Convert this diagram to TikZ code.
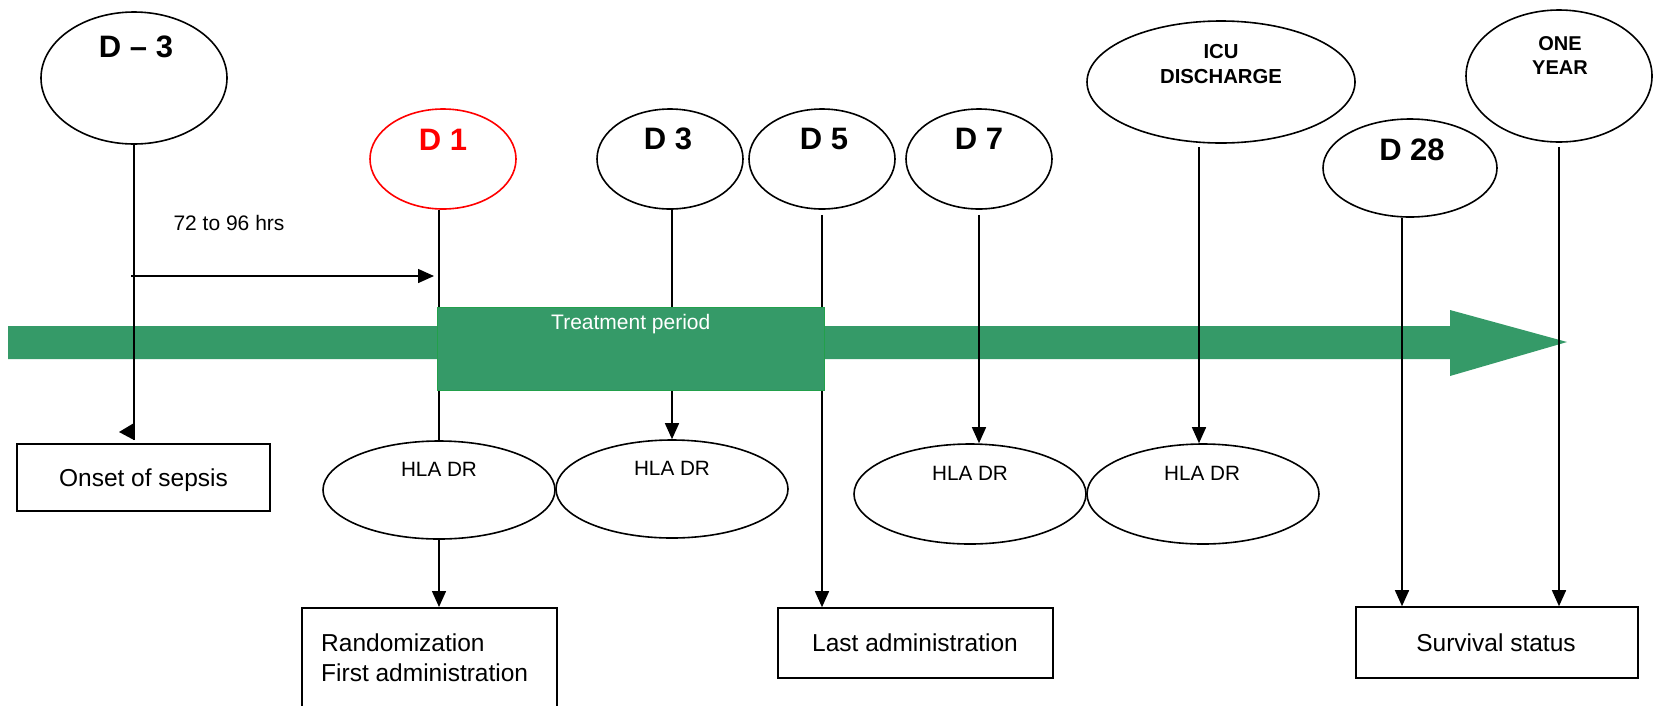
\documentclass[tikz,border=0pt]{standalone}
\usepackage{fontspec}
\setmainfont{Liberation Sans}
\usetikzlibrary{shapes.geometric,arrows.meta}
\definecolor{tgreen}{HTML}{359A68}
\definecolor{tborder}{HTML}{22A04B}
\definecolor{dred}{HTML}{FF0000}
\newcommand{\fbig}{\fontsize{31}{36}\selectfont\bfseries}
\newcommand{\fsmb}{\fontsize{20.3}{25}\selectfont\bfseries}
\newcommand{\fmid}{\fontsize{24.5}{30}\selectfont}
\newcommand{\fsml}{\fontsize{21}{25}\selectfont}
\newcommand{\fhla}{\fontsize{20.7}{25}\selectfont}
\tikzset{
  ell/.style={ellipse, draw, line width=1.6pt, inner sep=0pt},
  boxn/.style={rectangle, draw, line width=1.6pt, inner sep=0pt},
  conn/.style={line width=1.5pt},
  arr/.style={line width=1.5pt, -{Triangle[length=16pt,width=14pt]}},
  txt/.style={inner sep=0pt},
}
\begin{document}
\begin{tikzpicture}[x=1pt,y=-1pt]
\useasboundingbox (0,0) rectangle (1653,705);
\clip (0,0) rectangle (1653,705);
\fill[white] (0,0) rectangle (1653,705);

% timeline arrow
\fill[tgreen] (8,326) -- (1450,326) -- (1450,310) -- (1567,342) -- (1450,376) -- (1450,359) -- (8,359) -- cycle;

% top ellipses
\node[ell, minimum width=186pt, minimum height=132pt] (dm3) at (134,78) {};
\node[ell, draw=dred, minimum width=146pt, minimum height=100pt] (d1) at (443,159) {};
\node[ell, minimum width=146pt, minimum height=100pt] (d3) at (670,159) {};
\node[ell, minimum width=146pt, minimum height=100pt] (d5) at (822,159) {};
\node[ell, minimum width=146pt, minimum height=100pt] (d7) at (979,159) {};
\node[ell, minimum width=268pt, minimum height=122pt] (icu) at (1221,82) {};
\node[ell, minimum width=174pt, minimum height=98pt] (d28) at (1410,168) {};
\node[ell, minimum width=186pt, minimum height=132pt] (one) at (1559,76) {};

% HLA DR ellipses
\node[ell, minimum width=232pt, minimum height=98pt] (hla1) at (439,490) {};
\node[ell, minimum width=232pt, minimum height=98pt] (hla2) at (672,489) {};
\node[ell, minimum width=232pt, minimum height=100pt] (hla3) at (970,494) {};
\node[ell, minimum width=232pt, minimum height=100pt] (hla4) at (1203,494) {};

% boxes
\node[boxn, minimum width=253pt, minimum height=67pt] (onset) at (143.5,477.5) {};
\node[boxn, minimum width=255pt, minimum height=120pt, anchor=north west] (rand) at (301,607) {};
\node[boxn, minimum width=275pt, minimum height=70pt] (last) at (915.5,643) {};
\node[boxn, minimum width=282pt, minimum height=71pt] (surv) at (1497,642.5) {};

% connectors
\coordinate (onsetend) at (134,440);
\draw[conn] (dm3.south) -- (onsetend);
\fill (134,423) -- (119,432) -- (134,440) -- cycle;

\coordinate (hstart) at (131,276);
\coordinate (hend) at (434,276);
\draw[arr] (hstart) -- (hend);

\draw[conn] (hla1.north |- d1.south) -- (hla1.north);
\draw[arr] (hla1.south) -- (hla1.south |- rand.north);
\draw[arr] (hla2.north |- d3.south) -- (hla2.north);
\draw[arr] ([yshift=-5pt]d5.south) -- (d5.south |- last.north);
\draw[arr] ([yshift=-5pt]d7.south) -- (d7.south |- hla3.north);
\coordinate (icuc) at (1199,147);
\draw[arr] (icuc) -- (icuc |- hla4.north);
\coordinate (d28c) at (1402,218);
\draw[arr] (d28c) -- (d28c |- surv.north);
\draw[arr] ([yshift=-4pt]one.south) -- (one.south |- surv.north);

% treatment box (on top of lines)
\node[rectangle, fill=tgreen, draw=tborder, line width=1.2pt, inner sep=0pt,
      minimum width=387pt, minimum height=83pt, anchor=north west] (treat) at (437,307) {};
\node[txt, anchor=base west, text=white, font=\fsml] (treatt) at (551,329.5) {Treatment period};

% labels
\node[txt, font=\fbig] (dm3t) at (136,47) {D – 3};
\node[txt, font=\fbig, text=dred] (d1t) at (443,140) {D 1};
\node[txt, font=\fbig] (d3t) at (668,139) {D 3};
\node[txt, font=\fbig] (d5t) at (824,139) {D 5};
\node[txt, font=\fbig] (d7t) at (979,139) {D 7};
\node[txt, font=\fsmb, align=center] (icut) at (1221,64) {ICU\\DISCHARGE};
\node[txt, font=\fbig] (d28t) at (1412,150) {D 28};
\node[txt, font={\fontsize{20}{24}\selectfont\bfseries}, align=center] (onet) at (1560,56) {ONE\\YEAR};

\node[txt, font=\fsml] (hrs) at (229,223) {72 to 96 hrs};

\node[txt, font=\fhla] (h1t) at (439,469) {HLA DR};
\node[txt, font=\fhla] (h2t) at (672,468) {HLA DR};
\node[txt, font=\fhla] (h3t) at (970,473) {HLA DR};
\node[txt, font=\fhla] (h4t) at (1202,473) {HLA DR};

\node[txt, font=\fmid, anchor=base] (onsett) at (143.5,486) {Onset of sepsis};
\node[txt, font=\fmid, align=left, anchor=west] (randt) at (321,658) {Randomization\\First administration};
\node[txt, font=\fmid] (lastt) at (915,643) {Last administration};
\node[txt, font=\fmid] (survt) at (1496,643) {Survival status};
\end{tikzpicture}
\end{document}
